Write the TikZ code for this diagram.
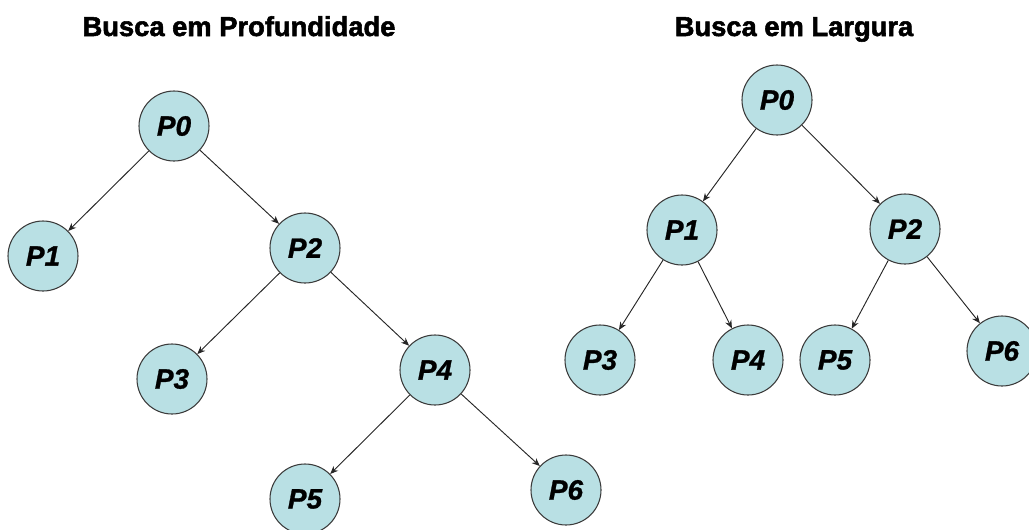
\documentclass[tikz,border=0pt]{standalone}
\usepackage{fontspec}
\setmainfont{Liberation Sans}
\newfontfamily\heavyfont[FakeBold=2]{Liberation Sans Bold}
\newfontfamily\heavyslant[FakeBold=1]{Liberation Sans Bold Italic}
\usetikzlibrary{arrows.meta}

\definecolor{procfill}{RGB}{185,224,228}
\definecolor{procline}{RGB}{60,60,60}

\tikzset{
  proc/.style={circle, draw=procline, line width=0.8pt, fill=procfill,
    minimum size=52.5pt, inner sep=0pt,
    font=\heavyslant\fontsize{21}{21}\selectfont},
  treetitle/.style={anchor=base, inner sep=0pt,
    font=\heavyfont\fontsize{20.5}{20.5}\selectfont},
  link/.style={-{Stealth[length=6pt,width=5pt]}, draw=black!85, line width=0.7pt}
}

\begin{document}
\begin{tikzpicture}[x=0.75pt,y=-0.75pt]
  \useasboundingbox (0,0) rectangle (1029,529);

  % depth-first tree
  \node[treetitle] (dt) at (239,36) {Busca em Profundidade};
  \draw
    (174,126) node[proc] (d0){P0}
    (43,256) node[proc] (d1){P1}
    (305,248) node[proc] (d2){P2}
    (172,379) node[proc] (d3){P3}
    (435,370) node[proc] (d4){P4}
    (305,499) node[proc] (d5){P5}
    (566,490) node[proc] (d6){P6};
  \begin{scope}[link]
    \draw (d0) to (d1);
    \draw (d0) to (d2);
    \draw (d2) to (d3);
    \draw (d2) to (d4);
    \draw (d4) to (d5);
    \draw (d4) to (d6);
  \end{scope}

  % breadth-first tree
  \node[treetitle] (lt) at (794,36) {Busca em Largura};
  \draw
    (777,100) node[proc] (l0){P0}
    (682,230) node[proc] (l1){P1}
    (905,229) node[proc] (l2){P2}
    (600,360) node[proc] (l3){P3}
    (748,360) node[proc] (l4){P4}
    (835,360) node[proc] (l5){P5}
    (1002,351) node[proc] (l6){P6};
  \begin{scope}[link]
    \draw (l0) to (l1);
    \draw (l0) to (l2);
    \draw (l1) to (l3);
    \draw (l1) to (l4);
    \draw (l2) to (l5);
    \draw (l2) to (l6);
  \end{scope}
\end{tikzpicture}
\end{document}
